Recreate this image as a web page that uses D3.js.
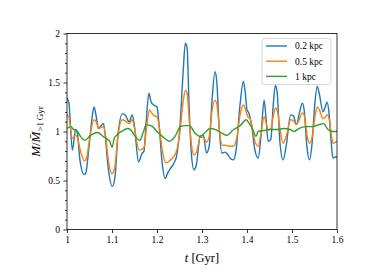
<!DOCTYPE html>
<html><head><meta charset="utf-8">
<script src="https://cdn.jsdelivr.net/npm/d3@7"></script>
<style>
body{margin:0;background:#fff}
svg{display:block}
text{font-family:"Liberation Serif","DejaVu Serif",serif;fill:#000}
</style>
</head><body>
<svg id="c" width="374" height="280"></svg>
<script>
// ---- data ----
const seriesNames = ["0.2 kpc", "0.5 kpc", "1 kpc"];
const seriesColors = ["#1f77b4", "#ff7f0e", "#2ca02c"];

const t02 = [1.000,1.004,1.012,1.019,1.023,1.029,1.038,1.042,1.049,1.056,1.060,1.064,1.070,1.076,1.081,1.084,1.091,1.101,1.107,1.113,1.123,1.129,1.138,1.145,1.150,1.159,1.167,1.171,1.176,1.182,1.187,1.193,1.200,1.204,1.211,1.218,1.224,1.230,1.238,1.244,1.251,1.258,1.263,1.267,1.271,1.276,1.282,1.287,1.296,1.303,1.310,1.316,1.322,1.329,1.333,1.338,1.344,1.351,1.358,1.364,1.370,1.376,1.384,1.392,1.396,1.400,1.404,1.409,1.418,1.425,1.431,1.438,1.442,1.447,1.453,1.458,1.463,1.467,1.473,1.480,1.487,1.497,1.503,1.510,1.516,1.523,1.527,1.533,1.539,1.544,1.551,1.556,1.560,1.569,1.573,1.578,1.582,1.587,1.591,1.596,1.600];
const v02 = [1.34,1.30,0.81,1.02,0.98,0.70,0.56,0.58,0.85,1.15,1.25,1.18,1.03,1.06,1.08,1.00,0.65,0.44,0.55,0.95,1.18,1.17,1.10,1.17,1.05,0.69,0.78,0.80,1.10,1.39,1.30,1.27,1.25,1.10,0.70,0.52,0.58,0.625,0.68,0.76,1.05,1.60,1.90,1.85,1.30,0.80,0.61,0.65,0.95,0.96,0.78,0.85,1.30,1.61,1.50,1.05,0.78,0.79,0.76,0.72,0.71,0.82,1.25,1.51,1.40,1.22,1.19,1.10,0.80,0.73,0.95,1.32,1.15,0.90,0.92,1.25,1.47,1.40,0.90,0.71,0.85,1.17,1.16,1.07,1.18,1.29,1.22,0.85,0.71,0.85,1.30,1.46,1.40,1.20,1.24,1.30,1.20,0.90,0.73,0.74,0.74];

const t05 = [1.000,1.004,1.012,1.019,1.023,1.030,1.039,1.044,1.050,1.060,1.065,1.070,1.076,1.081,1.086,1.092,1.100,1.106,1.113,1.123,1.129,1.138,1.145,1.150,1.160,1.167,1.172,1.177,1.183,1.188,1.194,1.200,1.205,1.212,1.220,1.230,1.238,1.244,1.251,1.258,1.263,1.267,1.272,1.277,1.282,1.288,1.296,1.303,1.310,1.316,1.322,1.329,1.334,1.339,1.345,1.352,1.360,1.370,1.377,1.385,1.392,1.397,1.402,1.407,1.413,1.419,1.425,1.431,1.438,1.443,1.447,1.453,1.458,1.463,1.468,1.474,1.480,1.487,1.497,1.503,1.510,1.516,1.523,1.528,1.534,1.539,1.545,1.551,1.556,1.561,1.569,1.573,1.578,1.583,1.588,1.591,1.596,1.600];
const v05 = [1.17,1.15,0.93,0.96,0.94,0.80,0.70,0.74,0.92,1.12,1.10,1.03,1.04,1.05,0.95,0.70,0.57,0.63,0.95,1.12,1.11,1.08,1.12,1.03,0.81,0.82,0.85,1.05,1.22,1.19,1.16,1.15,1.05,0.80,0.68,0.71,0.75,0.81,1.00,1.30,1.42,1.39,1.10,0.85,0.76,0.79,0.94,0.94,0.89,0.95,1.20,1.32,1.25,1.00,0.86,0.86,0.85,0.85,0.93,1.18,1.27,1.22,1.15,1.13,1.00,0.88,0.85,0.98,1.15,1.08,1.02,1.03,1.15,1.24,1.20,1.00,0.88,0.95,1.12,1.11,1.07,1.12,1.19,1.15,0.95,0.88,0.95,1.15,1.25,1.22,1.13,1.14,1.17,1.12,0.95,0.88,0.89,0.90];

const t1 = [1.000,1.008,1.015,1.023,1.030,1.040,1.050,1.060,1.068,1.080,1.090,1.095,1.100,1.105,1.112,1.125,1.135,1.143,1.150,1.162,1.170,1.176,1.190,1.200,1.212,1.228,1.240,1.252,1.262,1.272,1.285,1.296,1.305,1.318,1.330,1.345,1.355,1.370,1.385,1.398,1.405,1.413,1.420,1.425,1.438,1.452,1.468,1.482,1.495,1.505,1.515,1.530,1.545,1.560,1.570,1.580,1.590,1.600];
const v1 = [1.03,1.05,1.02,1.00,0.95,0.91,0.95,0.98,0.99,0.95,0.92,0.90,0.84,0.93,0.97,1.01,1.03,1.01,0.96,0.91,1.00,1.07,1.05,1.00,0.95,0.90,0.95,1.05,1.06,1.06,0.98,0.95,0.98,1.03,1.02,0.98,0.96,1.02,1.06,1.12,1.08,1.02,0.95,1.00,1.01,1.02,1.02,1.03,1.02,1.00,1.03,1.05,1.05,1.07,1.08,1.02,1.00,1.00];

const xTicks = [1, 1.1, 1.2, 1.3, 1.4, 1.5, 1.6];
const xTickLabels = ["1", "1.1", "1.2", "1.3", "1.4", "1.5", "1.6"];
const yTicks = [0, 0.5, 1, 1.5, 2];
const yTickLabels = ["0", "0.5", "1", "1.5", "2"];
const yMinorTicks = [0.1,0.2,0.3,0.4,0.6,0.7,0.8,0.9,1.1,1.2,1.3,1.4,1.6,1.7,1.8,1.9];

// ---- drawing ----
const svg = d3.select("#c");
const L = 67, R = 337, T = 33.5, B = 229.5;
const x = d3.scaleLinear().domain([1, 1.6]).range([L, R]);
const y = d3.scaleLinear().domain([0, 2]).range([B, T]);

svg.append("defs").append("clipPath").attr("id", "clip")
  .append("rect").attr("x", L).attr("y", T).attr("width", R - L).attr("height", B - T);

const series = [
  t02.map((t, i) => [t, v02[i]]),
  t05.map((t, i) => [t, v05[i]]),
  t1.map((t, i) => [t, v1[i]])
];
const line = d3.line().x(d => x(d[0])).y(d => y(d[1])).curve(d3.curveMonotoneX);

const g = svg.append("g").attr("clip-path", "url(#clip)");
series.forEach((s, i) => {
  g.append("path").datum(s).attr("d", line)
    .attr("fill", "none").attr("stroke", seriesColors[i])
    .attr("stroke-width", 1.4).attr("stroke-linejoin", "round").attr("stroke-linecap", "round");
});

// axes
const fs = 9.5;
const xa = svg.append("g").attr("transform", `translate(0,${B})`)
  .call(d3.axisBottom(x).tickValues(xTicks).tickSize(3.5).tickPadding(3.5)
    .tickFormat((d, i) => xTickLabels[i]));
const ya = svg.append("g").attr("transform", `translate(${L},0)`)
  .call(d3.axisLeft(y).tickValues(yTicks).tickSize(3.5).tickPadding(3.5)
    .tickFormat((d, i) => yTickLabels[i]));
svg.append("g").attr("transform", `translate(${L},0)`)
  .call(d3.axisLeft(y).tickValues(yMinorTicks).tickSize(2).tickFormat(""))
  .call(s => s.select(".domain").remove());
[xa, ya].forEach(a => {
  a.select(".domain").remove();
  a.selectAll("text").attr("font-size", fs).attr("font-family", '"Liberation Serif",serif');
});
svg.selectAll(".tick line").attr("stroke", "#000").attr("stroke-width", 0.8);

// frame
svg.append("rect").attr("x", L).attr("y", T).attr("width", R - L).attr("height", B - T)
  .attr("fill", "none").attr("stroke", "#000").attr("stroke-width", 0.8);

// x label
const xl = svg.append("text").attr("x", (L + R) / 2).attr("y", 262)
  .attr("text-anchor", "middle").attr("font-size", 12.5);
xl.append("tspan").attr("font-style", "italic").text("t");
xl.append("tspan").text(" [Gyr]");

// y label
const yl = svg.append("text")
  .attr("transform", `translate(40,${(T + B) / 2}) rotate(-90)`)
  .attr("text-anchor", "middle").attr("font-size", 13);
yl.append("tspan").attr("font-style", "italic").text("M");
yl.append("tspan").text("/");
yl.append("tspan").attr("font-style", "italic").text("M\u0304");
yl.append("tspan").attr("font-size", 9).attr("dy", 2.5).text(">1\u2009Gyr");

// legend
const lg = svg.append("g");
lg.append("rect").attr("x", 262).attr("y", 38.5).attr("width", 69).attr("height", 46)
  .attr("rx", 2.5).attr("fill", "#fff").attr("fill-opacity", 0.8)
  .attr("stroke", "#ccc").attr("stroke-width", 0.8);
seriesNames.forEach((n, i) => {
  const yy = 46 + i * 15.2;
  lg.append("line").attr("x1", 266).attr("x2", 287).attr("y1", yy).attr("y2", yy)
    .attr("stroke", seriesColors[i]).attr("stroke-width", 1.4);
  lg.append("text").attr("x", 295).attr("y", yy + 3.3).attr("font-size", fs).text(n);
});
</script>
</body></html>
